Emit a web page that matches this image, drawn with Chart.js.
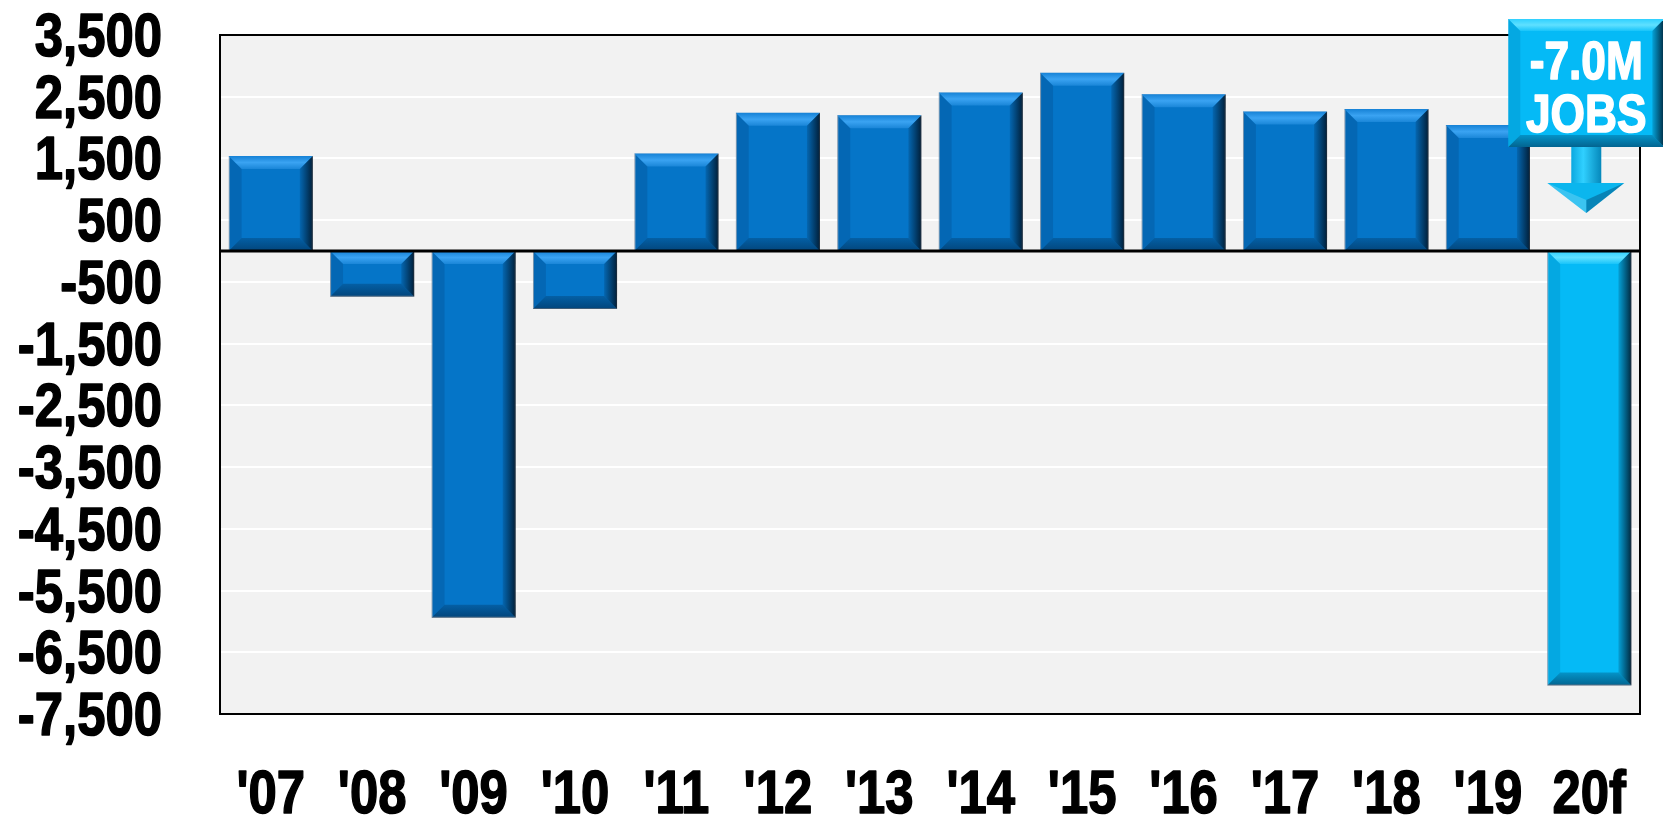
<!DOCTYPE html>
<html>
<head>
<meta charset="utf-8">
<script src="https://cdn.jsdelivr.net/npm/chart.js@4.4.0/dist/chart.umd.min.js"></script>
<style>
  html, body { margin: 0; padding: 0; background: #fff; }
  #wrap { width: 1663px; height: 821px; }
</style>
</head>
<body>
<div id="wrap"><canvas id="jobsChart"></canvas></div>
<script>
// data (thousands of jobs)
const years = ["'07", "'08", "'09", "'10", "'11", "'12", "'13", "'14", "'15", "'16", "'17", "'18", "'19", "20f"];
const jobs = [1540, -740, -5940, -940, 1580, 2240, 2200, 2570, 2890, 2540, 2260, 2300, 2040, -7040];
const yMin = -7500;
const yMax = 3500;
const yStep = 1000;
const calloutLines = ['-7.0M', 'JOBS'];

const FONT = '"Liberation Sans", Arial, sans-serif';
const NARROW = 0.82; // no Arial Narrow here, so squeeze Liberation Sans
const barBlue = '#0575C8';
const forecastBlue = '#05BAF6';

// bar colours: the forecast year is lighter
const barColors = years.map((y, i) => i === years.length - 1 ? forecastBlue : barBlue);

// text squeezed sideways like a narrow face, with a thin stroke to keep it heavy
function narrowText(ctx, text, x, y, align) {
  ctx.save();
  ctx.translate(x, y);
  ctx.scale(NARROW, 1);
  ctx.textAlign = align;
  ctx.strokeStyle = ctx.fillStyle;
  ctx.lineWidth = 1.6;
  ctx.lineJoin = 'round';
  ctx.fillText(text, 0, 0);
  ctx.strokeText(text, 0, 0);
  ctx.restore();
}

// draws the bevelled edges on a rectangle
function drawBevel(ctx, x0, y0, x1, y1, b, light) {
  var g;
  // top edge
  g = ctx.createLinearGradient(0, y0, 0, y0 + b);
  g.addColorStop(0, light ? '#2fd0ff' : '#1682d6');
  g.addColorStop(0.5, light ? '#5fe0ff' : '#3aa3f2');
  g.addColorStop(1, light ? '#18c4fa' : '#1a86d8');
  ctx.fillStyle = g;
  ctx.beginPath();
  ctx.moveTo(x0, y0); ctx.lineTo(x1, y0); ctx.lineTo(x1 - b, y0 + b); ctx.lineTo(x0 + b, y0 + b);
  ctx.closePath(); ctx.fill();
  // left edge
  ctx.fillStyle = light ? 'rgba(0,90,140,0.18)' : 'rgba(0,30,70,0.15)';
  ctx.beginPath();
  ctx.moveTo(x0, y0); ctx.lineTo(x0 + b, y0 + b); ctx.lineTo(x0 + b, y1 - b); ctx.lineTo(x0, y1);
  ctx.closePath(); ctx.fill();
  // bottom edge
  g = ctx.createLinearGradient(0, y1 - b, 0, y1);
  g.addColorStop(0, 'rgba(0,30,60,0.25)');
  g.addColorStop(1, 'rgba(0,30,60,0.55)');
  ctx.fillStyle = g;
  ctx.beginPath();
  ctx.moveTo(x0, y1); ctx.lineTo(x0 + b, y1 - b); ctx.lineTo(x1 - b, y1 - b); ctx.lineTo(x1, y1);
  ctx.closePath(); ctx.fill();
  // right edge
  g = ctx.createLinearGradient(x1 - b, 0, x1, 0);
  g.addColorStop(0, 'rgba(0,20,40,0.15)');
  g.addColorStop(1, 'rgba(0,15,30,0.85)');
  ctx.fillStyle = g;
  ctx.beginPath();
  ctx.moveTo(x1, y0); ctx.lineTo(x1, y1); ctx.lineTo(x1 - b, y1 - b); ctx.lineTo(x1 - b, y0 + b);
  ctx.closePath(); ctx.fill();
}

const plotStyle = {
  id: 'plotStyle',
  beforeDraw(chart) {
    const { ctx, chartArea: a } = chart;
    ctx.save();
    ctx.fillStyle = '#F2F2F2';
    ctx.fillRect(a.left, a.top, a.right - a.left, a.bottom - a.top);
    ctx.restore();
  },
  afterDatasetsDraw(chart) {
    const { ctx, chartArea: a } = chart;
    const meta = chart.getDatasetMeta(0);
    ctx.save();
    meta.data.forEach((bar, i) => {
      const x0 = bar.x - bar.width / 2;
      const x1 = bar.x + bar.width / 2;
      const top = Math.min(bar.y, bar.base);
      const bottom = Math.max(bar.y, bar.base);
      drawBevel(ctx, x0, top, x1, bottom, 13, i === meta.data.length - 1);
    });
    // zero line
    const y0 = chart.scales.y.getPixelForValue(0);
    ctx.strokeStyle = '#000';
    ctx.lineWidth = 3;
    ctx.beginPath();
    ctx.moveTo(a.left, y0); ctx.lineTo(a.right, y0);
    ctx.stroke();
    // frame
    ctx.lineWidth = 2;
    ctx.strokeRect(a.left, a.top, a.right - a.left, a.bottom - a.top);
    ctx.restore();
  },
  afterDraw(chart) {
    const { ctx, chartArea: a } = chart;
    const xs = chart.scales.x, ys = chart.scales.y;
    ctx.save();
    // axis labels
    ctx.fillStyle = '#000';
    ctx.font = 'bold 62px ' + FONT;
    ctx.textBaseline = 'alphabetic';
    ys.ticks.forEach((t, i) => {
      narrowText(ctx, t.value.toLocaleString('en-US'), a.left - 58, ys.getPixelForTick(i) + 21, 'right');
    });
    xs.ticks.forEach((t, i) => {
      narrowText(ctx, years[i], xs.getPixelForTick(i), a.bottom + 99, 'center');
    });

    // callout above the forecast bar
    const meta = chart.getDatasetMeta(0);
    const last = meta.data[meta.data.length - 1];
    const cx = last.x - 3;
    const bx0 = cx - 78, bx1 = cx + 78, by0 = 19, by1 = 147;
    // arrow shaft
    var g = ctx.createLinearGradient(cx - 15, 0, cx + 15, 0);
    g.addColorStop(0, '#0aa8e0'); g.addColorStop(0.4, '#30d0ff'); g.addColorStop(1, '#0588bb');
    ctx.fillStyle = g;
    ctx.fillRect(cx - 15, by1 - 5, 30, 42);
    // arrow head
    ctx.fillStyle = '#0bb6ee';
    ctx.beginPath();
    ctx.moveTo(cx - 39, 183); ctx.lineTo(cx + 38, 183); ctx.lineTo(cx, 213);
    ctx.closePath(); ctx.fill();
    ctx.fillStyle = 'rgba(0,40,80,0.35)';
    ctx.beginPath();
    ctx.moveTo(cx, 200); ctx.lineTo(cx + 38, 183); ctx.lineTo(cx, 213);
    ctx.closePath(); ctx.fill();
    ctx.fillStyle = 'rgba(255,255,255,0.2)';
    ctx.beginPath();
    ctx.moveTo(cx - 39, 183); ctx.lineTo(cx, 200); ctx.lineTo(cx, 213);
    ctx.closePath(); ctx.fill();
    // box
    ctx.fillStyle = forecastBlue;
    ctx.fillRect(bx0, by0, bx1 - bx0, by1 - by0);
    drawBevel(ctx, bx0, by0, bx1, by1, 12, true);
    // text
    ctx.fillStyle = '#fff';
    ctx.font = 'bold 54px ' + FONT;
    ctx.textBaseline = 'alphabetic';
    narrowText(ctx, calloutLines[0], cx, 79, 'center');
    narrowText(ctx, calloutLines[1], cx, 132, 'center');
    ctx.restore();
  }
};

const ctxJobs = document.getElementById('jobsChart');

new Chart(ctxJobs, {
  type: 'bar',
  data: {
    labels: years,
    datasets: [{
      label: 'Jobs',
      data: jobs,
      backgroundColor: barColors,
      borderColor: '#8aa6bd',
      borderWidth: 1,
      borderSkipped: false,
      barPercentage: 0.83,
      categoryPercentage: 1.0
    }]
  },
  options: {
    responsive: true,
    maintainAspectRatio: false,
    animation: false,
    layout: { padding: { top: 35, right: 23, left: 0, bottom: 0 } },
    plugins: {
      legend: { display: false },
      tooltip: { enabled: false }
    },
    scales: {
      x: {
        grid: { display: false, drawTicks: false },
        border: { display: false },
        ticks: { display: false },
        afterFit(scale) { scale.height = 107; }
      },
      y: {
        min: yMin,
        max: yMax,
        grid: { color: '#FFFFFF', lineWidth: 2, drawTicks: false },
        border: { display: false },
        ticks: { display: false, stepSize: yStep, autoSkip: false },
        afterFit(scale) { scale.width = 220; }
      }
    }
  },
  plugins: [plotStyle]
});
</script>
</body>
</html>
